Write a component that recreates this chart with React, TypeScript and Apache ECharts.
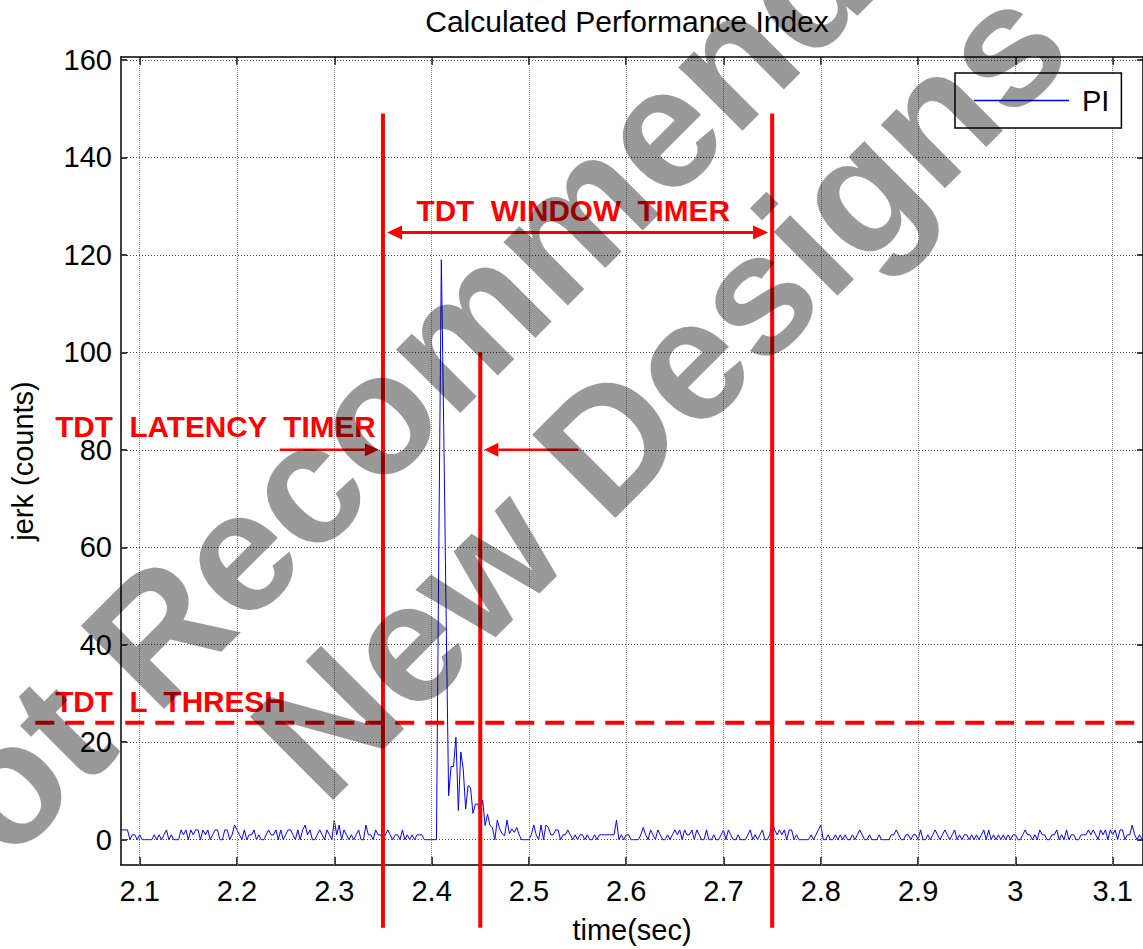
import React, { useEffect, useRef } from 'react';
import * as echarts from 'echarts';

const FONT = "'Liberation Sans', Arial, Helvetica, sans-serif";

// Sampling of the PI trace (seconds)
const sampleStart = 2.08;
const sampleStep = 0.0025;

// PI values (counts), 20 samples per row
const piA = [2, 2, 2, 2, 0, 1, 1, 0, 1, 0, 0, 0, 0, 0, 1, 0, 1, 0, 1, 2];
const piB = [0, 1, 0, 0, 0, 2, 1, 2, 0, 2, 1, 2, 2, 0, 2, 1, 2, 0, 1, 2];
const piC = [2, 0, 0, 2, 2, 0, 1, 3, 2, 1, 0, 2, 0, 1, 1, 2, 0, 1, 0, 0];
const piD = [1, 2, 1, 1, 2, 0, 2, 0, 1, 2, 2, 1, 0, 2, 0, 2, 3, 1, 2, 0];
const piE = [0, 1, 2, 1, 0, 2, 1, 0, 4, 1, 3, 0, 2, 1, 0, 1, 0, 1, 2, 0];
const piF = [0, 3, 1, 1, 0, 2, 1, 1, 0, 1, 2, 1, 0, 1, 1, 0, 2, 0, 1, 0];
const piG = [1, 0, 1, 1, 1, 0, 0, 0, 0, 0, 0, 62, 119, 84, 45, 9, 15, 15, 21, 6];
const piH = [18, 14.5, 6.3, 11.1, 10.7, 5.4, 7.3, 7.3, 5.4, 8.1, 2.9, 5.2, 2.9, 2.5, 0, 4, 2.2, 1.2, 0.8, 4];
const piI = [1.2, 2.2, 1.5, 2.5, 1, 0, 0, 0, 0, 1, 3, 1, 0, 3, 0, 3, 2.5, 1, 1, 2];
const piJ = [2, 0, 1, 1, 2, 1, 0, 1, 0, 1, 1, 0, 1, 0, 0, 1, 0, 1, 1, 1];
const piK = [1, 1, 1, 1, 4, 0, 1, 0, 1, 1, 0, 0, 0, 0, 1, 2.5, 1, 0, 2, 1];
const piL = [0, 2, 1, 0, 0, 1, 0, 1, 2, 1, 2, 0, 2, 1, 1, 2, 0, 2, 1, 0];
const piM = [0, 2, 0, 0, 1, 0, 0, 1, 2, 0, 2, 1, 0, 0, 1, 0, 0, 0, 1, 2];
const piN = [0, 1, 0, 1, 2, 0, 0, 1, 4, 2, 1, 2, 1, 2, 0, 2, 2, 0, 1, 0];
const piO = [0, 0, 0, 0, 1, 0, 1, 2, 3, 0, 0, 1, 0, 0, 1, 0, 1, 0, 1, 0];
const piP = [0, 1, 0, 1, 2, 1, 0, 0, 1, 0, 0, 0, 1, 0, 0, 0, 0, 1, 1, 2];
const piQ = [1, 0, 0, 1, 1, 0, 1, 1, 0, 2, 0, 0, 1, 0, 1, 2, 1, 0, 1, 2];
const piR = [1, 0, 1, 2, 0, 1, 0, 1, 1, 0, 1, 0, 1, 0, 1, 2, 0, 2, 0, 1];
const piS = [0, 1, 0, 1, 0, 1, 0, 1, 1, 0, 0, 1, 2, 1, 1, 0, 1, 0, 2, 1];
const piT = [1, 0, 0, 1, 1, 2, 0, 1, 0, 2, 0, 1, 1, 0, 0, 1, 1, 1, 2, 1];
const piU = [2, 1, 0, 2, 1, 2, 0, 2, 1, 2, 0, 2, 2, 0, 1, 1, 3, 1, 0, 1, 0];

const piValues = [
  ...piA, ...piB, ...piC, ...piD, ...piE, ...piF, ...piG, ...piH, ...piI, ...piJ,
  ...piK, ...piL, ...piM, ...piN, ...piO, ...piP, ...piQ, ...piR, ...piS, ...piT, ...piU,
];

// Axes
const xTicks = [2.1, 2.2, 2.3, 2.4, 2.5, 2.6, 2.7, 2.8, 2.9, 3.0, 3.1];
const yTicks = [0, 20, 40, 60, 80, 100, 120, 140, 160];
const xRange = [2.0808, 3.1311];
const yRange = [-5.2, 160.6];

// Annotations (data units)
const windowTimer = [2.35, 2.75];
const latencyEnd = 2.45;
const windowLineTop = 149;
const latencyLineTop = 100;
const markerBottom = -18.1;
const thresholdLevel = 24;
const thresholdStart = 1.9927;
const windowArrowLevel = 124.6;
const latencyArrowLevel = 80;
const latencyArrowTails = [2.2438, 2.551];
const arrowGap = 0.0042;
const windowLabelPos = [2.5455, 129.2];
const latencyLabelPos = [2.0132, 84.7];
const threshLabelPos = [2.0132, 28.3];

export default function App() {
  const ref = useRef<HTMLDivElement>(null);

  useEffect(() => {
    if (!ref.current) return;
    const chart = echarts.init(ref.current, null, { renderer: 'svg' });

    const piData = piValues.map((v, i) => [sampleStart + i * sampleStep, v]);

    const axisLine = { show: true, onZero: false, lineStyle: { color: '#000', width: 1.5 } };
    const tickStyle = { color: '#000', width: 1.5 };
    const labelStyle = { fontSize: 29, color: '#000', fontFamily: FONT };

    const option: any = {
      animation: false,
      backgroundColor: '#fff',
      title: {
        text: 'Calculated Performance Index',
        left: 627,
        top: 6,
        padding: 0,
        textAlign: 'center',
        textStyle: { fontSize: 30, fontWeight: 'normal', color: '#000', fontFamily: FONT },
      },
      legend: {
        data: [{ name: 'PI', icon: 'rect' }],
        left: 955,
        top: 73,
        orient: 'horizontal',
        backgroundColor: '#fff',
        borderColor: '#000',
        borderWidth: 1.5,
        borderRadius: 0,
        padding: [12, 12, 12, 19],
        itemWidth: 95,
        itemHeight: 1.5,
        itemGap: 0,
        selectedMode: false,
        itemStyle: { color: '#0000ff', borderWidth: 0 },
        textStyle: { fontSize: 29, color: '#000', fontFamily: FONT, lineHeight: 31, padding: [0, 0, 0, 8] },
        z: 20,
      },
      grid: { left: 119, top: 57, right: -1, bottom: 84, containLabel: false },
      xAxis: [
        {
          type: 'value',
          position: 'bottom',
          min: xRange[0],
          max: xRange[1],
          axisLine,
          axisTick: { show: true, inside: true, length: 8, lineStyle: tickStyle, customValues: xTicks },
          axisLabel: {
            show: true,
            customValues: xTicks,
            margin: 11,
            ...labelStyle,
            formatter: (v: number) => String(Math.round(v * 10) / 10),
          },
          splitLine: { show: false },
          name: 'time(sec)',
          nameLocation: 'middle',
          nameGap: 50,
          nameTextStyle: labelStyle,
        },
        {
          type: 'value',
          position: 'top',
          min: xRange[0],
          max: xRange[1],
          axisLine,
          axisTick: { show: true, inside: true, length: 8, lineStyle: tickStyle, customValues: xTicks },
          axisLabel: { show: false },
          splitLine: { show: false },
        },
      ],
      yAxis: [
        {
          type: 'value',
          position: 'left',
          min: yRange[0],
          max: yRange[1],
          axisLine,
          axisTick: { show: true, inside: true, length: 6, lineStyle: tickStyle, customValues: yTicks },
          axisLabel: {
            show: true,
            customValues: yTicks,
            margin: 9,
            ...labelStyle,
            formatter: (v: number) => String(Math.round(v)),
          },
          splitLine: { show: false },
          name: 'jerk (counts)',
          nameLocation: 'middle',
          nameGap: 84,
          nameTextStyle: labelStyle,
        },
        {
          type: 'value',
          position: 'right',
          min: yRange[0],
          max: yRange[1],
          axisLine,
          axisTick: { show: true, inside: true, length: 6, lineStyle: tickStyle, customValues: yTicks },
          axisLabel: { show: false },
          splitLine: { show: false },
        },
      ],
      series: [
        {
          name: 'gridlines',
          type: 'line',
          data: [],
          silent: true,
          markLine: {
            silent: true,
            animation: false,
            symbol: ['none', 'none'],
            label: { show: false },
            emphasis: { disabled: true },
            lineStyle: { color: '#666', width: 1, type: [1, 2] },
            data: [
              ...xTicks.map((v) => ({ xAxis: v, lineStyle: { color: '#888', width: 1, type: [1, 1] } })),
              ...yTicks.map((v) => ({ yAxis: v, lineStyle: { color: '#444', width: 1, type: [1, 2] } })),
            ],
          },
        },
        {
          name: 'PI',
          type: 'line',
          data: piData,
          symbol: 'none',
          showSymbol: false,
          lineStyle: { color: '#0000ff', width: 1 },
          itemStyle: { color: '#0000ff' },
          z: 3,
        },
      ],
    };

    chart.setOption(option);

    const P = (x: number, y: number) => chart.convertToPixel({ seriesIndex: 1 }, [x, y]) as number[];
    const RED = '#ff0000';
    const redText = (text: string, pos: number[], align: string) => {
      const p = P(pos[0], pos[1]);
      return {
        type: 'text',
        x: p[0],
        y: p[1],
        z: 50,
        silent: true,
        style: {
          text,
          fill: RED,
          fontSize: 29.7,
          fontWeight: 'bold',
          fontFamily: FONT,
          textAlign: align,
          textVerticalAlign: 'middle',
        },
      };
    };
    const vline = (x: number, top: number) => {
      const a = P(x, top);
      const b = P(x, markerBottom);
      return {
        type: 'line',
        z: 50,
        silent: true,
        shape: { x1: a[0], y1: a[1], x2: b[0], y2: b[1] },
        style: { stroke: RED, lineWidth: 4 },
      };
    };
    const arrow = (tailX: number, tipX: number, level: number, lw: number, headLen: number, headHalf: number) => {
      const t = P(tailX, level);
      const h = P(tipX, level);
      const dir = h[0] > t[0] ? 1 : -1;
      const baseX = h[0] - dir * headLen;
      return [
        {
          type: 'line',
          z: 50,
          silent: true,
          shape: { x1: t[0], y1: t[1], x2: baseX, y2: h[1] },
          style: { stroke: RED, lineWidth: lw },
        },
        {
          type: 'polygon',
          z: 50,
          silent: true,
          shape: { points: [[h[0], h[1]], [baseX, h[1] - headHalf], [baseX, h[1] + headHalf]] },
          style: { fill: RED },
        },
      ];
    };

    const thrA = P(thresholdStart, thresholdLevel);
    const thrB = P(xRange[1], thresholdLevel);
    const midWin = (windowTimer[0] + windowTimer[1]) / 2;

    const rot = (45 * Math.PI) / 180;
    const watermarkStyle = {
      fill: 'rgba(0,0,0,0.4)',
      fontSize: 171,
      fontWeight: 'bold',
      fontFamily: FONT,
      textAlign: 'left',
      textVerticalAlign: 'middle',
    };

    const graphic: any[] = [
      vline(windowTimer[0], windowLineTop),
      vline(windowTimer[1], windowLineTop),
      vline(latencyEnd, latencyLineTop),
      {
        type: 'line',
        z: 50,
        silent: true,
        shape: { x1: thrA[0], y1: thrA[1], x2: thrB[0], y2: thrB[1] },
        style: { stroke: RED, lineWidth: 4, lineDash: [19, 11] },
      },
      ...arrow(midWin, windowTimer[0] + arrowGap, windowArrowLevel, 3, 15, 7),
      ...arrow(midWin, windowTimer[1] - arrowGap, windowArrowLevel, 3, 15, 7),
      ...arrow(latencyArrowTails[0], windowTimer[0] - arrowGap, latencyArrowLevel, 2.5, 14, 6.5),
      ...arrow(latencyArrowTails[1], latencyEnd + arrowGap, latencyArrowLevel, 2.5, 14, 7),
      redText('TDT  WINDOW  TIMER', windowLabelPos, 'center'),
      redText('TDT  LATENCY  TIMER', latencyLabelPos, 'left'),
      redText('TDT  L  THRESH', threshLabelPos, 'left'),
      {
        type: 'text',
        x: -121,
        y: 910,
        rotation: rot,
        z: 100,
        silent: true,
        style: { text: 'Not Recommended for', ...watermarkStyle },
      },
      {
        type: 'text',
        x: 283,
        y: 766,
        rotation: rot,
        z: 100,
        silent: true,
        style: { text: 'New Designs', ...watermarkStyle },
      },
    ];

    chart.setOption({ graphic });

    return () => chart.dispose();
  }, []);

  return (
    <div
      ref={ref}
      style={{ position: 'absolute', left: 0, top: 0, width: 1143, height: 949, background: '#fff' }}
    />
  );
}
